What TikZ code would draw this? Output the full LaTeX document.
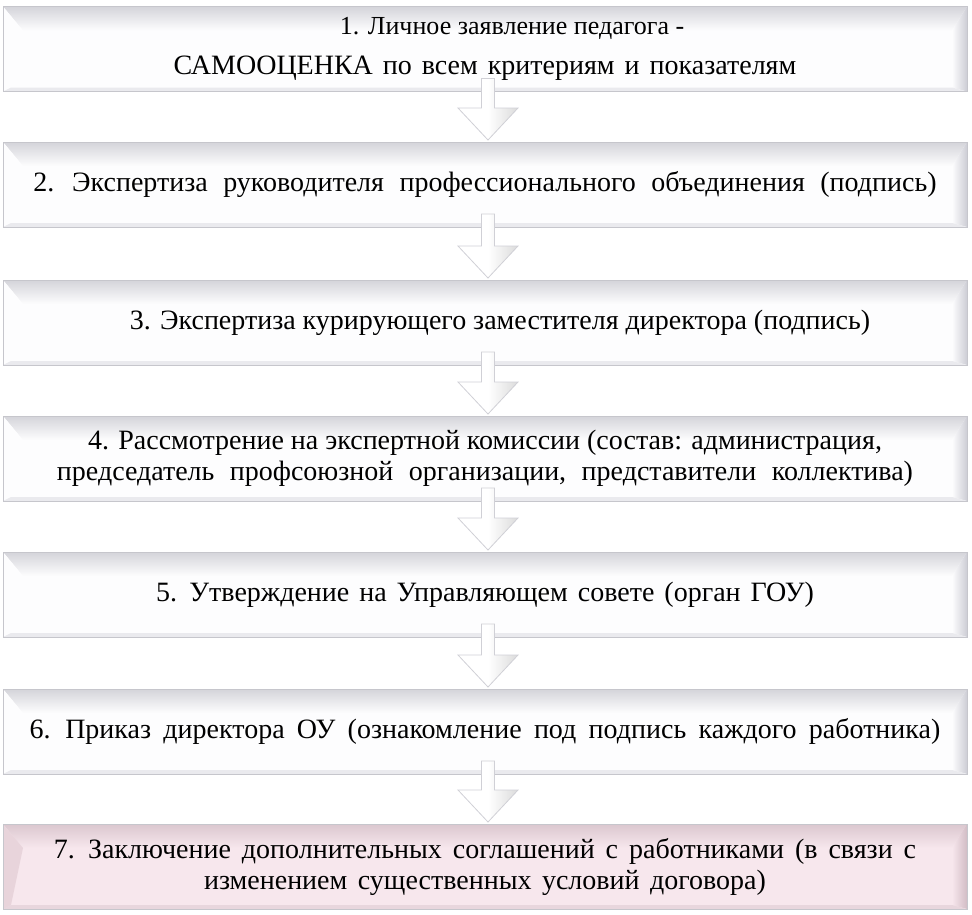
\documentclass[tikz,border=0pt]{standalone}
\usepackage{fontspec}
\setmainfont{Liberation Serif}
\usetikzlibrary{calc,backgrounds}
\definecolor{boxfill}{HTML}{FDFDFE}
\definecolor{bevtop}{HTML}{D4D4DA}
\definecolor{bevright}{HTML}{CDCDD5}
\definecolor{edge}{HTML}{C6C6CC}
\definecolor{pinkfill}{HTML}{F7E7ED}
\definecolor{pinktop}{HTML}{DBC7CF}
\definecolor{pinkright}{HTML}{D2BCC5}
\definecolor{pinkleft}{HTML}{E8D4DB}
\definecolor{arrowedge}{HTML}{D0D0D6}
\tikzset{
  stepbox/.style={rectangle, minimum width=964pt, minimum height=85pt,
    inner sep=0pt, outer sep=0pt, font=\fontsize{28}{31}\selectfont,
    align=center, text=black},
}
\newcommand\widesp[2]{{\spaceskip=#1 plus 1pt\relax #2}}
\newcommand\bevelbox[5]{%
  \begin{pgfonlayer}{background}
  \fill[#2] (#1.north west) rectangle (#1.south east);
  \shade[top color=#3, bottom color=#2]
    (#1.north west) -- (#1.north east) -- ($(#1.north east)+(-15,-24)$)
    -- ($(#1.north west)+(20,-24)$) -- cycle;
  \shade[left color=#2, right color=#4]
    (#1.north east) -- (#1.south east) -- ($(#1.south east)+(-15,4)$)
    -- ($(#1.north east)+(-15,-24)$) -- cycle;
  \fill[#5]
    (#1.north west) -- ($(#1.north west)+(20,-24)$) -- ($(#1.south west)+(8,4)$)
    -- (#1.south west) -- cycle;
  \fill[#4!40!#2]
    (#1.south west) -- ($(#1.south west)+(8,4)$) -- ($(#1.south east)+(-15,4)$)
    -- (#1.south east) -- cycle;
  \draw[edge, line width=1pt] (#1.north west) rectangle (#1.south east);
  \end{pgfonlayer}}
\newcommand\fatarrow[2]{%
  \path let \p1=($(#1.south)+(3,13)$), \p2=($(#2.north)+(3,2)$) in
    coordinate (top) at (\x1,\y1) coordinate (tip) at (\x2,\y2);
  \fill[white] let \p1=(top), \p2=(tip) in
    (\x1-6.5,\y1) -- (\x1+6.5,\y1) -- (\x1+6.5,\y2+32) -- (\x1+30,\y2+32)
    -- (\x2,\y2) -- (\x1-30,\y2+32) -- (\x1-6.5,\y2+32) -- cycle;
  \shade[left color=white, right color=gray!28] let \p1=(top), \p2=(tip) in
    (\x1,\y1) -- (\x1+6.5,\y1) -- (\x1+6.5,\y2+32) -- (\x1+30,\y2+32)
    -- (\x2,\y2) -- (\x1,\y2+20) -- cycle;
  \draw[arrowedge, line width=0.8pt, line join=miter] let \p1=(top), \p2=(tip) in
    (\x1-6.5,\y1) -- (\x1+6.5,\y1) -- (\x1+6.5,\y2+32) -- (\x1+30,\y2+32)
    -- (\x2,\y2) -- (\x1-30,\y2+32) -- (\x1-6.5,\y2+32) -- cycle;}
\begin{document}
\begin{tikzpicture}[x=1pt,y=1pt]
\useasboundingbox (0,0) rectangle (972,-914);
\node[stepbox] (b1) at (485,-49) {\hspace*{54pt}{\fontsize{26}{31}\selectfont 1. Личное заявление педагога -}\\[9pt]\widesp{10pt}{САМООЦЕНКА по всем критериям и показателям}};
\node[stepbox] (b2) at (485,-184.5) {\widesp{15.5pt}{2. Экспертиза руководителя профессионального объединения (подпись)}};
\node[stepbox] (b3) at (485,-322.5) {\hspace*{30pt}3. Экспертиза курирующего заместителя директора (подпись)};
\node[stepbox] (b4) at (485,-458.5) {4. Рассмотрение на экспертной комиссии (состав: администрация,\\\widesp{15.5pt}{председатель профсоюзной организации, представители коллектива)}};
\node[stepbox] (b5) at (485,-594.5) {\widesp{10pt}{5. Утверждение на Управляющем совете (орган ГОУ)}};
\node[stepbox] (b6) at (485,-731.5) {\widesp{12.3pt}{6. Приказ директора ОУ (ознакомление под подпись каждого работника)}};
\node[stepbox] (b7) at (485,-866.5) {\widesp{11pt}{7. Заключение дополнительных соглашений с работниками (в связи с}\\\widesp{10.5pt}{изменением существенных условий договора)}};
\bevelbox{b1}{boxfill}{bevtop}{bevright}{boxfill}
\bevelbox{b2}{boxfill}{bevtop}{bevright}{boxfill}
\bevelbox{b3}{boxfill}{bevtop}{bevright}{boxfill}
\bevelbox{b4}{boxfill}{bevtop}{bevright}{boxfill}
\bevelbox{b5}{boxfill}{bevtop}{bevright}{boxfill}
\bevelbox{b6}{boxfill}{bevtop}{bevright}{boxfill}
\bevelbox{b7}{pinkfill}{pinktop}{pinkright}{pinkleft}
\fatarrow{b1}{b2}
\fatarrow{b2}{b3}
\fatarrow{b3}{b4}
\fatarrow{b4}{b5}
\fatarrow{b5}{b6}
\fatarrow{b6}{b7}
\end{tikzpicture}
\end{document}
